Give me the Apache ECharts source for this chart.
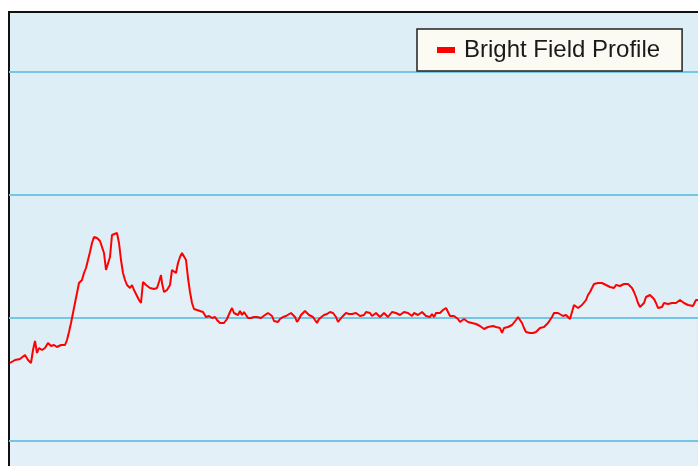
<!DOCTYPE html>
<html>
<head>
<meta charset="utf-8">
<script src="https://cdn.jsdelivr.net/npm/echarts@6/dist/echarts.min.js"></script>
<style>
  html, body { margin: 0; padding: 0; background: #ffffff; }
  #main { width: 698px; height: 466px; }
</style>
</head>
<body>
<div id="main"></div>
<script>
// profile position along the line
var position = [
  1, 6, 11, 16, 19, 22, 24, 26, 28, 30, 33, 36, 39, 42, 45, 48, 52, 56, 58, 60,
  62, 64, 66, 68, 70, 73, 75, 77, 79, 81, 83, 85, 88, 91, 93, 95, 97, 99, 101, 103,
  105, 108, 110, 112, 114, 116, 118, 121, 123, 125, 128, 130, 132, 134, 137, 141, 145, 148, 150, 152,
  153, 155, 158, 161, 163, 165, 167, 169, 171, 173, 175, 177, 179, 181, 183, 185, 188, 191, 194, 197,
  200, 203, 206, 208, 211, 215, 218, 221, 223, 225, 227, 229, 231, 233, 235, 237, 239, 242, 245, 248,
  250, 252, 254, 256, 259, 261, 263, 265, 267, 269, 271, 274, 277, 279, 282, 284, 286, 288, 290, 292,
  294, 296, 298, 300, 302, 304, 306, 308, 310, 312, 315, 318, 321, 324, 327, 329, 331, 333, 335, 337,
  340, 343, 345, 347, 349, 351, 353, 355, 357, 359, 361, 363, 365, 367, 369, 371, 373, 375, 377, 379,
  381, 383, 385, 387, 389, 391, 393, 395, 397, 399, 401, 403, 405, 407, 409, 411, 413, 415, 417, 419,
  421, 423, 425, 427, 429, 431, 434, 437, 439, 441, 443, 445, 447, 449, 451, 453, 455, 457, 459, 461,
  463, 465, 467, 469, 471, 473, 475, 477, 479, 481, 484, 487, 489, 491, 493, 495, 497, 499, 501, 503,
  505, 507, 509, 511, 513, 515, 517, 519, 521, 524, 527, 529, 531, 533, 535, 537, 539, 541, 543, 545,
  547, 549, 551, 554, 557, 559, 561, 563, 565, 567, 569, 571, 573, 575, 577, 579, 581, 583, 585, 587,
  589, 591, 593, 595, 597, 599, 601, 603, 605, 607, 609, 611, 613, 615, 617, 619, 621, 623, 625, 627,
  629, 631, 633, 635, 637, 639, 641, 643, 645, 647, 649, 651, 653, 655, 657, 659, 661, 663, 665, 667,
  669, 671, 673, 675, 677, 679, 681, 684, 687, 689
];

// bright field intensity
var intensity = [
  201, 204, 205, 209, 204, 201, 214, 223, 211, 216, 214, 216, 221, 218, 219, 217, 219, 219, 224, 232,
  241, 251, 261, 271, 281, 284, 291, 296, 304, 312, 321, 327, 326, 323, 322, 311, 294, 296, 307, 329,
  331, 331, 321, 304, 291, 284, 279, 276, 279, 274, 268, 264, 261, 282, 279, 276, 275, 276, 282, 289,
  281, 272, 274, 279, 294, 294, 291, 301, 307, 311, 313, 304, 286, 272, 261, 255, 254, 253, 252, 247,
  248, 246, 247, 244, 241, 241, 245, 252, 256, 251, 252, 249, 253, 249, 252, 249, 246, 246, 247, 247,
  245, 246, 247, 249, 251, 251, 248, 243, 242, 242, 245, 247, 248, 250, 251, 250, 247, 242, 245, 249,
  251, 253, 251, 249, 251, 247, 244, 241, 245, 247, 249, 250, 252, 251, 247, 242, 244, 247, 249, 251,
  250, 250, 251, 251, 249, 248, 247, 249, 252, 253, 251, 248, 249, 251, 249, 247, 248, 251, 249, 247,
  248, 252, 253, 251, 251, 249, 251, 252, 250, 251, 251, 248, 251, 252, 249, 248, 252, 251, 248, 247,
  247, 250, 247, 251, 252, 251, 254, 256, 255, 248, 247, 248, 246, 245, 242, 244, 245, 244, 242, 241,
  241, 241, 240, 239, 238, 236, 235, 236, 237, 239, 238, 237, 237, 236, 231, 236, 234, 237, 235, 239,
  241, 244, 247, 245, 241, 236, 232, 231, 231, 231, 232, 234, 236, 236, 237, 238, 241, 242, 247, 251,
  251, 251, 249, 248, 249, 247, 245, 252, 259, 258, 256, 257, 259, 261, 264, 269, 272, 276, 280, 281,
  281, 281, 281, 280, 279, 278, 277, 277, 276, 279, 281, 278, 277, 280, 281, 280, 278, 276, 272, 267,
  261, 257, 256, 261, 267, 269, 269, 268, 265, 261, 256, 254, 257, 261, 261, 260, 259, 261, 262, 261,
  263, 264, 262, 261, 261, 259, 257, 258, 264, 264
];

var yTicks = [0, 123, 246, 369, 492];

var myChart = echarts.init(document.getElementById('main'), null, { renderer: 'canvas' });

var points = [];
for (var i = 0; i < position.length; i++) {
  points.push([position[i], intensity[i]]);
}

var option = {
  animation: false,
  backgroundColor: '#ffffff',
  grid: {
    show: true,
    left: 9,
    top: 12,
    width: 700,
    height: 552,
    outerBoundsMode: 'none',
    containLabel: false,
    backgroundColor: '#ddeef7',
    borderColor: '#111111',
    borderWidth: 2
  },
  legend: {
    left: 417,
    top: 29,
    padding: [9, 22, 9, 20],
    backgroundColor: '#fbfbf3',
    borderColor: '#222222',
    borderWidth: 1.5,
    borderRadius: 0,
    icon: 'rect',
    itemWidth: 18,
    itemHeight: 6,
    textStyle: {
      color: '#1a1a1a',
      fontFamily: 'Liberation Sans',
      fontSize: 24,
      lineHeight: 24,
      padding: [0, 0, 0, 4]
    },
    data: ['Bright Field Profile']
  },
  xAxis: {
    type: 'value',
    min: 0,
    max: 700,
    axisLine: { show: false },
    axisTick: { show: false },
    axisLabel: { show: false },
    splitLine: { show: false }
  },
  yAxis: {
    type: 'value',
    z: 2,
    min: yTicks[0],
    max: 552,
    interval: yTicks[1] - yTicks[0],
    axisLine: { show: false },
    axisTick: { show: false },
    axisLabel: { show: false },
    splitLine: {
      show: true,
      showMaxLine: false,
      lineStyle: { color: '#74c6e6', width: 2 }
    }
  },
  series: [
    {
      // fill under the profile, drawn below the grid lines
      name: 'fill',
      type: 'line',
      z: 1,
      data: points,
      showSymbol: false,
      silent: true,
      lineStyle: { width: 0, opacity: 0 },
      areaStyle: { color: '#e3f0f8', opacity: 1, origin: 'start' }
    },
    {
      name: 'Bright Field Profile',
      type: 'line',
      z: 3,
      data: points,
      showSymbol: false,
      color: '#ff0000',
      lineStyle: { color: '#ff0000', width: 2 }
    }
  ]
};

myChart.setOption(option);
</script>
</body>
</html>
